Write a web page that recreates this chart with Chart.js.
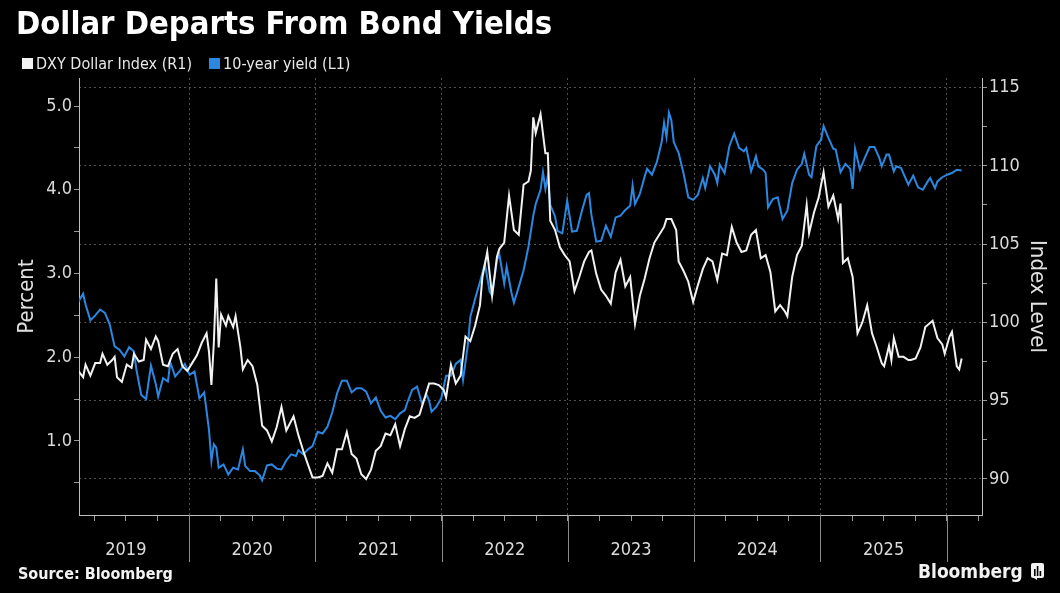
<!DOCTYPE html>
<html>
<head>
<meta charset="utf-8">
<script src="https://cdn.jsdelivr.net/npm/chart.js@4.4.1/dist/chart.umd.min.js"></script>
<style>
html,body{margin:0;padding:0;background:#000;width:1060px;height:593px;overflow:hidden;}
#wrap{position:relative;width:1060px;height:593px;background:#000;}
#c{position:absolute;left:0;top:0;}
.t{position:absolute;color:#fff;font-family:"DejaVu Sans Condensed","DejaVu Sans",sans-serif;white-space:nowrap;}
#title{left:16px;top:3px;font-size:32.5px;font-weight:bold;line-height:40px;}
#legend{left:22px;top:54px;font-size:16px;line-height:20px;color:#e8e8e8;}
#legend span.item{margin-right:17px;}
.sw{display:inline-block;width:11px;height:11px;margin-right:3px;vertical-align:0px;}
#source{left:18px;top:563px;font-size:16px;font-weight:bold;line-height:22px;color:#f2f2f2;}
#brand{left:918px;top:558px;font-size:19px;font-weight:bold;line-height:26px;color:#f2f2f2;}
#icon{position:absolute;left:1031px;top:563px;}
</style>
</head>
<body>
<div id="wrap">
<canvas id="c" width="1060" height="593"></canvas>
<div class="t" id="title">Dollar Departs From Bond Yields</div>
<div class="t" id="legend"><span class="item"><span class="sw" style="background:#f2f2f2"></span>DXY Dollar Index (R1)</span><span class="item"><span class="sw" style="background:#2b87e0"></span>10-year yield (L1)</span></div>
<div class="t" id="source">Source: Bloomberg</div>
<div class="t" id="brand">Bloomberg</div>
<svg id="icon" width="13" height="17" viewBox="0 0 13 17"><rect x="0" y="0" width="13" height="15" rx="2" fill="#f2f2f2"/><rect x="3" y="6" width="1.6" height="7" fill="#000"/><rect x="5.8" y="3" width="1.6" height="10" fill="#000"/><rect x="8.6" y="8" width="1.6" height="5" fill="#000"/><path d="M3 15 L6 17 L6 15 Z" fill="#f2f2f2"/></svg>
</div>
<script>
// ---------- DATA ----------
const dxyDates = [
 '2019-02-15','2019-03-01','2019-03-08','2019-03-22','2019-04-05','2019-04-19','2019-04-26','2019-05-10','2019-05-24','2019-05-31','2019-06-07','2019-06-21','2019-07-05','2019-07-19','2019-07-26','2019-08-09','2019-08-23','2019-08-30','2019-09-13','2019-09-27','2019-10-04','2019-10-18','2019-11-01','2019-11-15','2019-11-29','2019-12-13','2019-12-27',
 '2020-01-10','2020-01-24','2020-02-07','2020-02-21','2020-02-28','2020-03-06','2020-03-13','2020-03-20','2020-03-27','2020-04-03','2020-04-17','2020-04-24','2020-05-08','2020-05-15','2020-05-29','2020-06-05','2020-06-19','2020-07-03','2020-07-17','2020-07-31','2020-08-14','2020-08-28','2020-09-11','2020-09-25','2020-10-09','2020-10-30','2020-11-13','2020-11-27','2020-12-11','2020-12-24',
 '2021-01-08','2021-01-22','2021-02-05','2021-02-19','2021-03-05','2021-03-19','2021-04-02','2021-04-16','2021-04-30','2021-05-14','2021-05-28','2021-06-11','2021-06-25','2021-07-09','2021-07-23','2021-08-06','2021-08-20','2021-09-03','2021-09-17','2021-10-01','2021-10-15','2021-10-29','2021-11-12','2021-11-26','2021-12-10','2021-12-24',
 '2022-01-07','2022-01-14','2022-01-28','2022-02-11','2022-02-25','2022-03-11','2022-03-25','2022-04-08','2022-04-22','2022-04-29','2022-05-13','2022-05-27','2022-06-10','2022-06-17','2022-07-01','2022-07-15','2022-07-29','2022-08-12','2022-08-26','2022-09-09','2022-09-16','2022-09-23','2022-09-30','2022-10-14','2022-10-28','2022-11-04','2022-11-11','2022-11-25','2022-12-09','2022-12-23',
 '2023-01-06','2023-01-20','2023-02-03','2023-02-17','2023-03-03','2023-03-10','2023-03-24','2023-04-07','2023-04-21','2023-05-05','2023-05-19','2023-06-02','2023-06-16','2023-06-30','2023-07-14','2023-07-28','2023-08-11','2023-08-25','2023-09-08','2023-09-22','2023-10-06','2023-10-13','2023-10-27','2023-11-10','2023-11-17','2023-12-01','2023-12-15','2023-12-29',
 '2024-01-12','2024-01-26','2024-02-09','2024-02-23','2024-03-08','2024-03-22','2024-04-05','2024-04-19','2024-05-03','2024-05-17','2024-05-31','2024-06-14','2024-06-28','2024-07-12','2024-07-26','2024-08-09','2024-08-23','2024-09-06','2024-09-20','2024-09-27','2024-10-11','2024-10-25','2024-11-08','2024-11-22','2024-11-29','2024-12-13','2024-12-27',
 '2025-01-10','2025-01-24','2025-02-07','2025-02-21','2025-02-28','2025-03-07','2025-03-21','2025-04-04','2025-04-18','2025-05-02','2025-05-16','2025-05-30','2025-06-13','2025-06-27','2025-07-04','2025-07-18','2025-07-25','2025-08-01','2025-08-15','2025-08-29','2025-09-12','2025-09-19','2025-10-03','2025-10-17','2025-10-31','2025-11-21','2025-12-05','2025-12-19','2025-12-26',
 '2026-01-09','2026-01-16','2026-01-23','2026-01-30','2026-02-06','2026-02-13'
];
const dxyValues = [
 96.9,96.5,97.3,96.6,97.4,97.4,98.0,97.3,97.6,97.8,96.5,96.2,97.3,97.1,98.0,97.5,97.6,98.9,98.3,99.1,98.8,97.3,97.2,98.0,98.3,97.2,96.9,
 97.4,97.9,98.7,99.3,98.1,96.0,98.7,102.8,98.4,100.5,99.8,100.4,99.7,100.4,98.4,97.0,97.6,97.2,96.0,93.4,93.1,92.4,93.3,94.6,93.1,94.0,92.8,91.8,90.9,90.1,
 90.1,90.2,91.0,90.4,91.9,91.9,93.0,91.6,91.3,90.3,90.0,90.6,91.8,92.1,92.9,92.8,93.5,92.1,93.2,94.0,93.9,94.1,95.1,96.1,96.1,96.0,
 95.7,95.2,97.3,96.1,96.6,99.1,98.8,99.8,101.1,102.9,104.5,101.7,104.2,104.7,105.1,108.1,105.9,105.6,108.8,109.0,109.7,113.1,112.1,113.3,110.8,110.8,106.5,105.9,104.8,104.3,
 103.9,102.0,102.9,103.9,104.5,104.6,103.1,102.1,101.7,101.2,103.2,104.0,102.3,102.9,99.9,101.7,102.8,104.1,105.1,105.6,106.1,106.6,106.6,105.9,103.9,103.3,102.6,101.3,
 102.4,103.4,104.1,103.9,102.7,104.4,104.3,106.1,105.1,104.5,104.6,105.6,105.9,104.1,104.3,103.2,100.7,101.1,100.7,100.4,102.9,104.3,104.9,107.5,105.7,107.0,108.0,
 109.6,107.4,108.1,106.6,107.6,103.8,104.1,102.9,99.3,100.0,101.1,99.3,98.4,97.4,97.2,98.5,97.6,99.0,97.8,97.8,97.6,97.6,97.7,98.4,99.7,100.1,99.0,98.6,98.0,
 99.1,99.4,98.3,97.2,97.0,97.7
];
const yieldDates = [
 '2019-02-15','2019-03-01','2019-03-08','2019-03-22','2019-04-05','2019-04-19','2019-05-03','2019-05-17','2019-05-31','2019-06-14','2019-06-28','2019-07-12','2019-07-26','2019-08-02','2019-08-16','2019-08-30','2019-09-13','2019-09-27','2019-10-04','2019-10-18','2019-11-01','2019-11-08','2019-11-22','2019-12-06','2019-12-20',
 '2020-01-03','2020-01-17','2020-01-31','2020-02-14','2020-02-28','2020-03-06','2020-03-13','2020-03-20','2020-03-27','2020-04-10','2020-04-24','2020-05-08','2020-05-22','2020-06-05','2020-06-12','2020-06-26','2020-07-10','2020-07-24','2020-07-31','2020-08-14','2020-08-28','2020-09-11','2020-09-25','2020-10-09','2020-10-23','2020-11-06','2020-11-13','2020-11-27','2020-12-11','2020-12-24',
 '2021-01-08','2021-01-22','2021-02-05','2021-02-19','2021-03-05','2021-03-19','2021-04-02','2021-04-16','2021-04-30','2021-05-14','2021-05-28','2021-06-11','2021-06-25','2021-07-09','2021-07-23','2021-08-06','2021-08-20','2021-09-03','2021-09-17','2021-09-24','2021-10-08','2021-10-22','2021-11-05','2021-11-19','2021-11-26','2021-12-03','2021-12-17','2021-12-31',
 '2022-01-14','2022-01-28','2022-02-11','2022-02-25','2022-03-04','2022-03-18','2022-03-25','2022-04-08','2022-04-22','2022-05-06','2022-05-20','2022-05-27','2022-06-10','2022-06-17','2022-07-01','2022-07-08','2022-07-22','2022-07-29','2022-08-12','2022-08-26','2022-09-09','2022-09-23','2022-09-30','2022-10-14','2022-10-21','2022-10-28','2022-11-04','2022-11-11','2022-11-25','2022-12-02','2022-12-16','2022-12-30',
 '2023-01-13','2023-01-27','2023-02-10','2023-02-24','2023-03-03','2023-03-10','2023-03-24','2023-04-07','2023-04-21','2023-05-05','2023-05-19','2023-06-02','2023-06-16','2023-06-30','2023-07-07','2023-07-14','2023-07-28','2023-08-11','2023-08-18','2023-09-01','2023-09-15','2023-09-29','2023-10-06','2023-10-13','2023-10-20','2023-10-27','2023-11-03','2023-11-17','2023-12-01','2023-12-15','2023-12-29',
 '2024-01-12','2024-01-26','2024-02-02','2024-02-16','2024-03-01','2024-03-08','2024-03-15','2024-03-29','2024-04-12','2024-04-26','2024-05-10','2024-05-24','2024-05-31','2024-06-14','2024-06-28','2024-07-05','2024-07-19','2024-07-26','2024-08-02','2024-08-16','2024-08-30','2024-09-13','2024-09-27','2024-10-11','2024-10-25','2024-11-08','2024-11-15','2024-11-29','2024-12-06','2024-12-20',
 '2025-01-03','2025-01-10','2025-01-24','2025-02-07','2025-02-14','2025-02-28','2025-03-14','2025-03-28','2025-04-04','2025-04-11','2025-04-25','2025-05-09','2025-05-23','2025-06-06','2025-06-20','2025-06-27','2025-07-11','2025-07-18','2025-08-01','2025-08-08','2025-08-22','2025-09-12','2025-09-26','2025-10-10','2025-10-24','2025-11-07','2025-11-14','2025-11-28','2025-12-05','2025-12-19',
 '2026-01-02','2026-01-16','2026-01-30','2026-02-13'
];
const yieldValues = [
 2.66,2.76,2.63,2.44,2.50,2.57,2.53,2.39,2.13,2.09,2.01,2.12,2.07,1.85,1.55,1.50,1.90,1.68,1.53,1.75,1.71,1.94,1.77,1.84,1.92,
 1.79,1.83,1.51,1.58,1.13,0.76,0.96,0.92,0.68,0.72,0.60,0.68,0.66,0.90,0.70,0.64,0.64,0.59,0.53,0.71,0.72,0.67,0.66,0.77,0.84,0.82,0.89,0.84,0.90,0.94,
 1.11,1.09,1.17,1.34,1.57,1.72,1.72,1.58,1.63,1.63,1.59,1.45,1.52,1.36,1.28,1.30,1.26,1.33,1.37,1.46,1.61,1.65,1.45,1.55,1.48,1.35,1.41,1.51,
 1.78,1.78,1.92,1.97,1.73,2.15,2.48,2.70,2.90,3.12,2.78,2.74,3.16,3.23,2.88,3.08,2.77,2.65,2.84,3.04,3.32,3.69,3.83,4.00,4.21,4.01,4.16,3.82,3.68,3.51,3.48,3.87,
 3.50,3.51,3.74,3.94,3.96,3.70,3.38,3.39,3.57,3.44,3.67,3.69,3.76,3.81,4.05,3.83,3.95,4.16,4.25,4.18,4.33,4.57,4.80,4.63,4.92,4.83,4.57,4.44,4.20,3.91,3.88,
 3.94,4.14,4.02,4.28,4.18,4.08,4.30,4.20,4.52,4.67,4.50,4.46,4.50,4.22,4.40,4.28,4.24,4.20,3.79,3.89,3.91,3.65,3.75,4.08,4.24,4.31,4.43,4.18,4.15,4.52,
 4.60,4.76,4.62,4.49,4.48,4.21,4.31,4.25,4.01,4.49,4.24,4.38,4.51,4.51,4.38,4.28,4.42,4.42,4.22,4.28,4.26,4.06,4.17,4.03,4.00,4.10,4.14,4.02,4.10,4.15,
 4.18,4.20,4.24,4.23
];
const leftTicks = [0.5,1,1.5,2,2.5,3,3.5,4,4.5,5];
const rightTicks = [90,92.5,95,97.5,100,102.5,105,107.5,110,112.5,115];
const yearLabels = ['2019','2020','2021','2022','2023','2024','2025'];

// ---------- helpers ----------
function toYear(s){
  const p = s.split('-').map(Number);
  const t = Date.UTC(p[0], p[1]-1, p[2]), a = Date.UTC(p[0],0,1), b = Date.UTC(p[0]+1,0,1);
  return p[0] + (t-a)/(b-a);
}
if (dxyDates.length !== dxyValues.length) console.error('dxy length mismatch', dxyDates.length, dxyValues.length);
if (yieldDates.length !== yieldValues.length) console.error('yield length mismatch', yieldDates.length, yieldValues.length);

const FONT = '"DejaVu Sans Condensed","DejaVu Sans",sans-serif';
const TXT = '#dadada';
const AXIS = '#bdbdbd';
const GRID = 'rgba(190,190,190,0.42)';
const TICKC = '#9a9a9a';

const yearSep = {
  id: 'yearSep',
  afterDraw(chart){
    const {ctx, chartArea, scales} = chart;
    const x = scales.x;
    ctx.save();
    ctx.strokeStyle = '#8a8a8a';
    ctx.lineWidth = 1;
    for (let yr = Math.ceil(x.min); yr <= x.max; yr++){
      const px = Math.round(x.getPixelForValue(yr)) + 0.5;
      ctx.beginPath();
      ctx.moveTo(px, chartArea.bottom);
      ctx.lineTo(px, chartArea.bottom + 47);
      ctx.stroke();
    }
    ctx.restore();
  }
};

new Chart(document.getElementById('c'), {
  type: 'line',
  data: {
    datasets: [
      {
        label: 'DXY Dollar Index (R1)',
        data: dxyDates.map((d,i)=>({x: toYear(d), y: dxyValues[i]})),
        yAxisID: 'y1',
        borderColor: '#f2f2f2',
        borderWidth: 2,
        pointRadius: 0,
        tension: 0
      },
      {
        label: '10-year yield (L1)',
        data: yieldDates.map((d,i)=>({x: toYear(d), y: yieldValues[i]})),
        yAxisID: 'y',
        borderColor: '#2b87e0',
        borderWidth: 2,
        pointRadius: 0,
        tension: 0
      }
    ]
  },
  options: {
    responsive: false,
    animation: false,
    devicePixelRatio: 1,
    layout: { padding: { top: 78, left: 0, right: 0, bottom: 0 } },
    plugins: { legend: { display: false }, tooltip: { enabled: false } },
    scales: {
      x: {
        type: 'linear',
        min: 2019.129,
        max: 2026.279,
        afterBuildTicks: s => {
          const t = [];
          for (let v = 2019.25; v < 2026.3; v += 0.25) t.push({value: v});
          s.ticks = t;
        },
        afterFit: s => { s.height = 78; },
        ticks: {
          autoSkip: false, maxRotation: 0, minRotation: 0,
          color: TXT, font: { family: FONT, size: 18 }, padding: 19,
          callback: v => {
            if (v % 1 !== 0.5) return '';
            const lbl = String(Math.floor(v));
            return yearLabels.includes(lbl) ? lbl : '';
          }
        },
        grid: {
          color: c => (c.tick && Number.isInteger(c.tick.value)) ? GRID : 'rgba(0,0,0,0)',
          tickColor: TICKC, tickLength: 6, lineWidth: 1
        },
        border: { color: AXIS, width: 1, dash: [2,3] }
      },
      y: {
        type: 'linear',
        position: 'left',
        min: 0.116,
        max: 5.335,
        afterBuildTicks: s => { s.ticks = leftTicks.map(v => ({value: v})); },
        afterFit: s => { s.width = 79; },
        ticks: {
          autoSkip: false, color: TXT, font: { family: FONT, size: 18 }, padding: 2,
          callback: v => Number.isInteger(v) ? v.toFixed(1) : ''
        },
        grid: { drawOnChartArea: false, tickColor: TICKC, tickLength: 5 },
        border: { color: AXIS, width: 1 },
        title: { display: true, text: 'Percent', color: '#e0e0e0', font: { family: FONT, size: 22 }, padding: { top: 14, bottom: 0 } }
      },
      y1: {
        type: 'linear',
        position: 'right',
        min: 87.7,
        max: 115.61,
        afterBuildTicks: s => { s.ticks = rightTicks.map(v => ({value: v})); },
        afterFit: s => { s.width = 78; },
        ticks: {
          autoSkip: false, color: TXT, font: { family: FONT, size: 18 }, padding: 2,
          callback: v => (v % 5 === 0) ? String(v) : ''
        },
        grid: {
          color: c => (c.tick && c.tick.value % 5 === 0) ? GRID : 'rgba(0,0,0,0)',
          tickColor: TICKC, tickLength: 5, lineWidth: 1
        },
        border: { color: AXIS, width: 1, dash: [2,3] },
        title: { display: true, text: 'Index Level', color: '#e0e0e0', font: { family: FONT, size: 22 }, padding: { top: 10, bottom: 0 } }
      }
    }
  },
  plugins: [yearSep]
});
</script>
</body>
</html>
